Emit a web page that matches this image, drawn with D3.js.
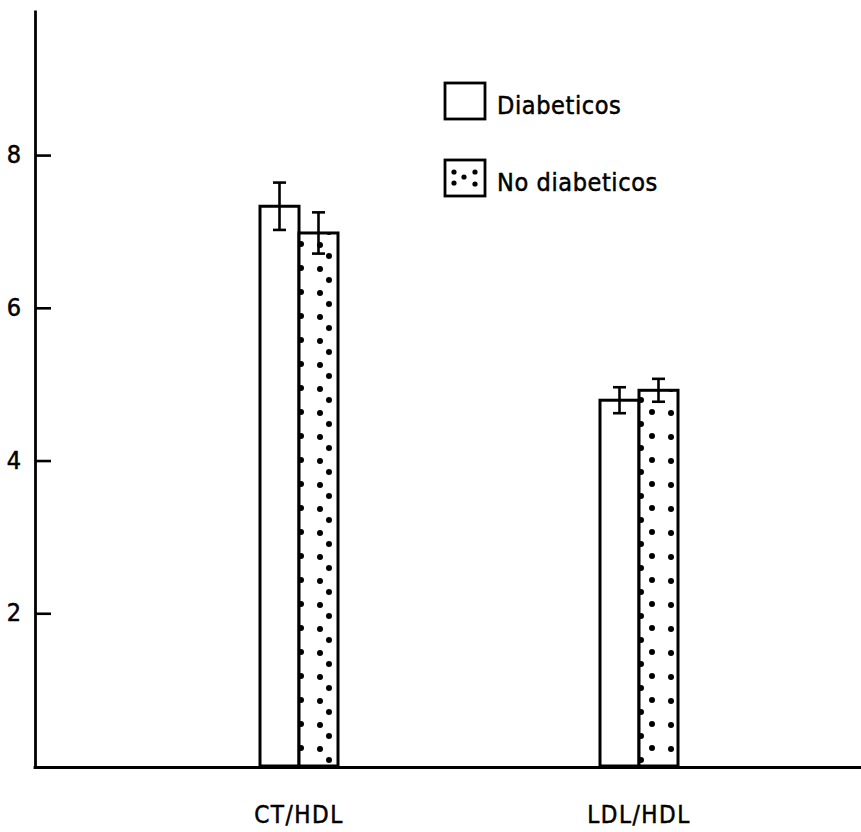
<!DOCTYPE html>
<html>
<head>
<meta charset="utf-8">
<script src="https://cdn.jsdelivr.net/npm/d3@7"></script>
<style>
  html, body { margin: 0; padding: 0; background: #fff; }
  svg { display: block; }
  text { font-family: "DejaVu Sans Condensed", "Liberation Sans Narrow", "DejaVu Sans", sans-serif; fill: #000; }
</style>
</head>
<body>
<svg id="chart" width="861" height="832"></svg>
<script>
// Lipid ratios by group
const categories = ["CT/HDL", "LDL/HDL"];
const series = ["Diabeticos", "No diabeticos"];
const diabeticos = [7.33, 4.79];
const noDiabeticos = [6.98, 4.92];
const errDiabeticos = [0.31, 0.17];
const errNoDiabeticos = [0.27, 0.15];
const yTicks = [2, 4, 6, 8];

const rows = [];
categories.forEach((c, i) => {
  rows.push({ cat: c, ser: series[0], v: diabeticos[i], e: errDiabeticos[i] });
  rows.push({ cat: c, ser: series[1], v: noDiabeticos[i], e: errNoDiabeticos[i] });
});

const svg = d3.select("#chart");
const axisX = 35, baseY = 766;

const y = d3.scaleLinear().domain([0, 9.9]).range([baseY, 10]);
const x = d3.scalePoint().domain(categories).range([299, 639]);
const xs = d3.scaleBand().domain(series).range([-39, 39]);

// Dotted fill for the second series
const defs = svg.append("defs");
const pat = defs.append("pattern")
  .attr("id", "dots")
  .attr("patternUnits", "userSpaceOnUse")
  .attr("width", 39).attr("height", 24);
pat.append("rect").attr("width", 39).attr("height", 24).attr("fill", "#fff");
[[8, 5], [28, 4], [17, 16]].forEach(([cx, cy]) =>
  pat.append("circle").attr("cx", cx).attr("cy", cy).attr("r", 3).attr("fill", "#000"));

const fillFor = s => s === series[0] ? "#fff" : "url(#dots)";

// Bars
const bars = svg.append("g");
bars.selectAll("rect")
  .data(rows)
  .join("rect")
  .attr("x", d => x(d.cat) + xs(d.ser))
  .attr("y", d => y(d.v))
  .attr("width", xs.bandwidth())
  .attr("height", d => y(0) - y(d.v))
  .attr("fill", d => fillFor(d.ser))
  .attr("stroke", "#000")
  .attr("stroke-width", 3);

// Error bars
const eb = svg.append("g").attr("stroke", "#000").attr("stroke-width", 2.6);
rows.forEach(d => {
  const cx = x(d.cat) + xs(d.ser) + xs.bandwidth() / 2;
  eb.append("line").attr("x1", cx).attr("x2", cx).attr("y1", y(d.v + d.e)).attr("y2", y(d.v - d.e));
  eb.append("line").attr("x1", cx - 6.5).attr("x2", cx + 6.5).attr("y1", y(d.v + d.e)).attr("y2", y(d.v + d.e));
  eb.append("line").attr("x1", cx - 6.5).attr("x2", cx + 6.5).attr("y1", y(d.v - d.e)).attr("y2", y(d.v - d.e));
});

// Y axis with inward ticks
const yAxis = svg.append("g")
  .attr("transform", `translate(${axisX},0)`)
  .call(d3.axisLeft(y).tickValues(yTicks).tickFormat(d3.format("d"))
    .tickSizeInner(-16).tickSizeOuter(0).tickPadding(14));
yAxis.select(".domain").attr("stroke-width", 2.8);
yAxis.selectAll(".tick line").attr("stroke-width", 2.6);
yAxis.selectAll(".tick text")
  .style("font-size", "25px")
  .style("font-family", "'DejaVu Sans Condensed', 'DejaVu Sans', sans-serif")
  .attr("dy", "0.3em")
  .attr("stroke", "#000").attr("stroke-width", 0.5);

// Baseline
svg.append("line")
  .attr("x1", axisX - 1.4).attr("x2", 861)
  .attr("y1", y(0) + 1.5).attr("y2", y(0) + 1.5)
  .attr("stroke", "#000").attr("stroke-width", 2.8);

// Category labels
svg.append("g").selectAll("text")
  .data(categories)
  .join("text")
  .attr("x", d => x(d))
  .attr("y", 823)
  .attr("text-anchor", "middle")
  .attr("font-size", 24)
  .attr("letter-spacing", 1.5)
  .attr("stroke", "#000").attr("stroke-width", 0.5)
  .text(d => d);

// Legend
const legend = svg.append("g").attr("transform", "translate(445,83)");
series.forEach((s, i) => {
  const g = legend.append("g").attr("transform", `translate(0,${i * 77})`);
  g.append("rect")
    .attr("width", 40).attr("height", 36)
    .attr("fill", "#fff")
    .attr("stroke", "#000").attr("stroke-width", 2.8);
  if (i === 1) {
    [[9, 12], [9, 23], [19, 17], [30, 12], [30, 24]].forEach(([cx, cy]) =>
      g.append("circle").attr("cx", cx).attr("cy", cy).attr("r", 2.6).attr("fill", "#000"));
  }
  g.append("text")
    .attr("x", 52).attr("y", 31)
    .attr("font-size", 25)
    .attr("letter-spacing", 0.6)
    .attr("stroke", "#000").attr("stroke-width", 0.5)
    .text(s);
});
</script>
</body>
</html>
